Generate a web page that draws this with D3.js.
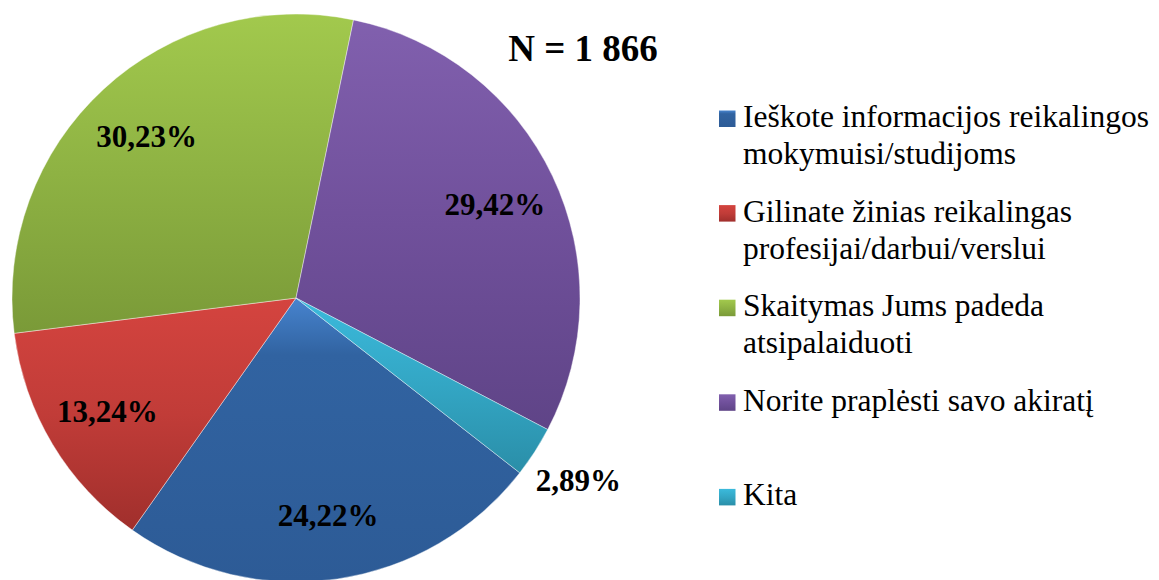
<!DOCTYPE html>
<html>
<head>
<meta charset="utf-8">
<script src="https://cdn.jsdelivr.net/npm/d3@7/dist/d3.min.js"></script>
<style>
  html, body { margin: 0; padding: 0; background: #fff; }
  svg { display: block; }
</style>
</head>
<body>
<svg id="chart" width="1159" height="580"></svg>
<script>
// data
var categories = [
    ["Ieškote informacijos reikalingos", "mokymuisi/studijoms"],
    ["Gilinate žinias reikalingas", "profesijai/darbui/verslui"],
    ["Skaitymas Jums padeda", "atsipalaiduoti"],
    ["Norite praplėsti savo akiratį"],
    ["Kita"]
];
var values = [24.22, 13.24, 30.23, 29.42, 2.89];
var valueLabels = ["24,22%", "13,24%", "30,23%", "29,42%", "2,89%"];
var title = "N = 1 866";

// gradient of each slice: top, middle (with its offset), bottom
var colorsTop = ["#4784cf", "#d4443f", "#a2c94d", "#8160ae", "#3bbadc"];
var colorsMid = ["#3163a1", "#c13c38", "#8eb243", "#70509b", "#33a6c4"];
var midOffset = ["20%", "50%", "50%", "50%", "50%"];
var colorsBottom = ["#2d5b96", "#a02f2c", "#7a9a38", "#5f4487", "#2a8ea8"];

var svg = d3.select("#chart");
var cx = 296, cy = 298, radius = 284;

var defs = svg.append("defs");
values.forEach(function (v, i) {
    var g = defs.append("linearGradient")
        .attr("id", "grad" + i)
        .attr("x1", 0).attr("y1", 0).attr("x2", 0).attr("y2", 1);
    g.append("stop").attr("offset", "0%").attr("stop-color", colorsTop[i]);
    g.append("stop").attr("offset", midOffset[i]).attr("stop-color", colorsMid[i]);
    g.append("stop").attr("offset", "100%").attr("stop-color", colorsBottom[i]);
});

var start = 128 * Math.PI / 180;
var pie = d3.pie().sort(null).value(function (d) { return d; })
    .startAngle(start).endAngle(start + 2 * Math.PI);
var arcs = pie(values);

var arc = d3.arc().innerRadius(0).outerRadius(radius);
var labelArc = d3.arc().innerRadius(220).outerRadius(220);
var outerLabelArc = d3.arc().innerRadius(336).outerRadius(336);

var layer = svg.append("g").attr("transform", "translate(" + cx + "," + cy + ")");

layer.selectAll("path.slice")
    .data(arcs)
    .enter()
    .append("path")
    .attr("class", "slice")
    .attr("d", arc)
    .attr("fill", function (d, i) { return "url(#grad" + i + ")"; })
    .attr("stroke", "rgba(255,255,255,0.4)")
    .attr("stroke-width", 1);

layer.selectAll("text.val")
    .data(arcs)
    .enter()
    .append("text")
    .attr("class", "val")
    .attr("transform", function (d) {
        var c = (d.value < 5 ? outerLabelArc : labelArc).centroid(d);
        return "translate(" + c[0] + "," + c[1] + ")";
    })
    .attr("text-anchor", "middle")
    .attr("dy", "0.35em")
    .style("font-family", "'Liberation Serif', 'Times New Roman', serif")
    .style("font-weight", "bold")
    .style("font-size", "31px")
    .attr("fill", "#000")
    .text(function (d, i) { return valueLabels[i]; });

svg.append("text")
    .attr("x", 583).attr("y", 61)
    .attr("text-anchor", "middle")
    .style("font-family", "'Liberation Serif', 'Times New Roman', serif")
    .style("font-weight", "bold")
    .style("font-size", "37px")
    .text(title);

// legend
var legend = svg.append("g").attr("transform", "translate(719,127)");
var item = legend.selectAll("g.item")
    .data(categories)
    .enter()
    .append("g")
    .attr("class", "item")
    .attr("transform", function (d, i) { return "translate(0," + (i * 94.6) + ")"; });

item.append("rect")
    .attr("x", 0).attr("y", -16.5)
    .attr("width", 16.5).attr("height", 16.5)
    .attr("fill", function (d, i) { return "url(#grad" + i + ")"; });

item.append("text")
    .style("font-family", "'Liberation Serif', 'Times New Roman', serif")
    .style("font-size", "31.5px")
    .attr("fill", "#000")
    .selectAll("tspan")
    .data(function (d) { return d; })
    .enter()
    .append("tspan")
    .attr("x", 24)
    .attr("y", function (d, j) { return j * 37; })
    .text(function (d) { return d; });
</script>
</body>
</html>
